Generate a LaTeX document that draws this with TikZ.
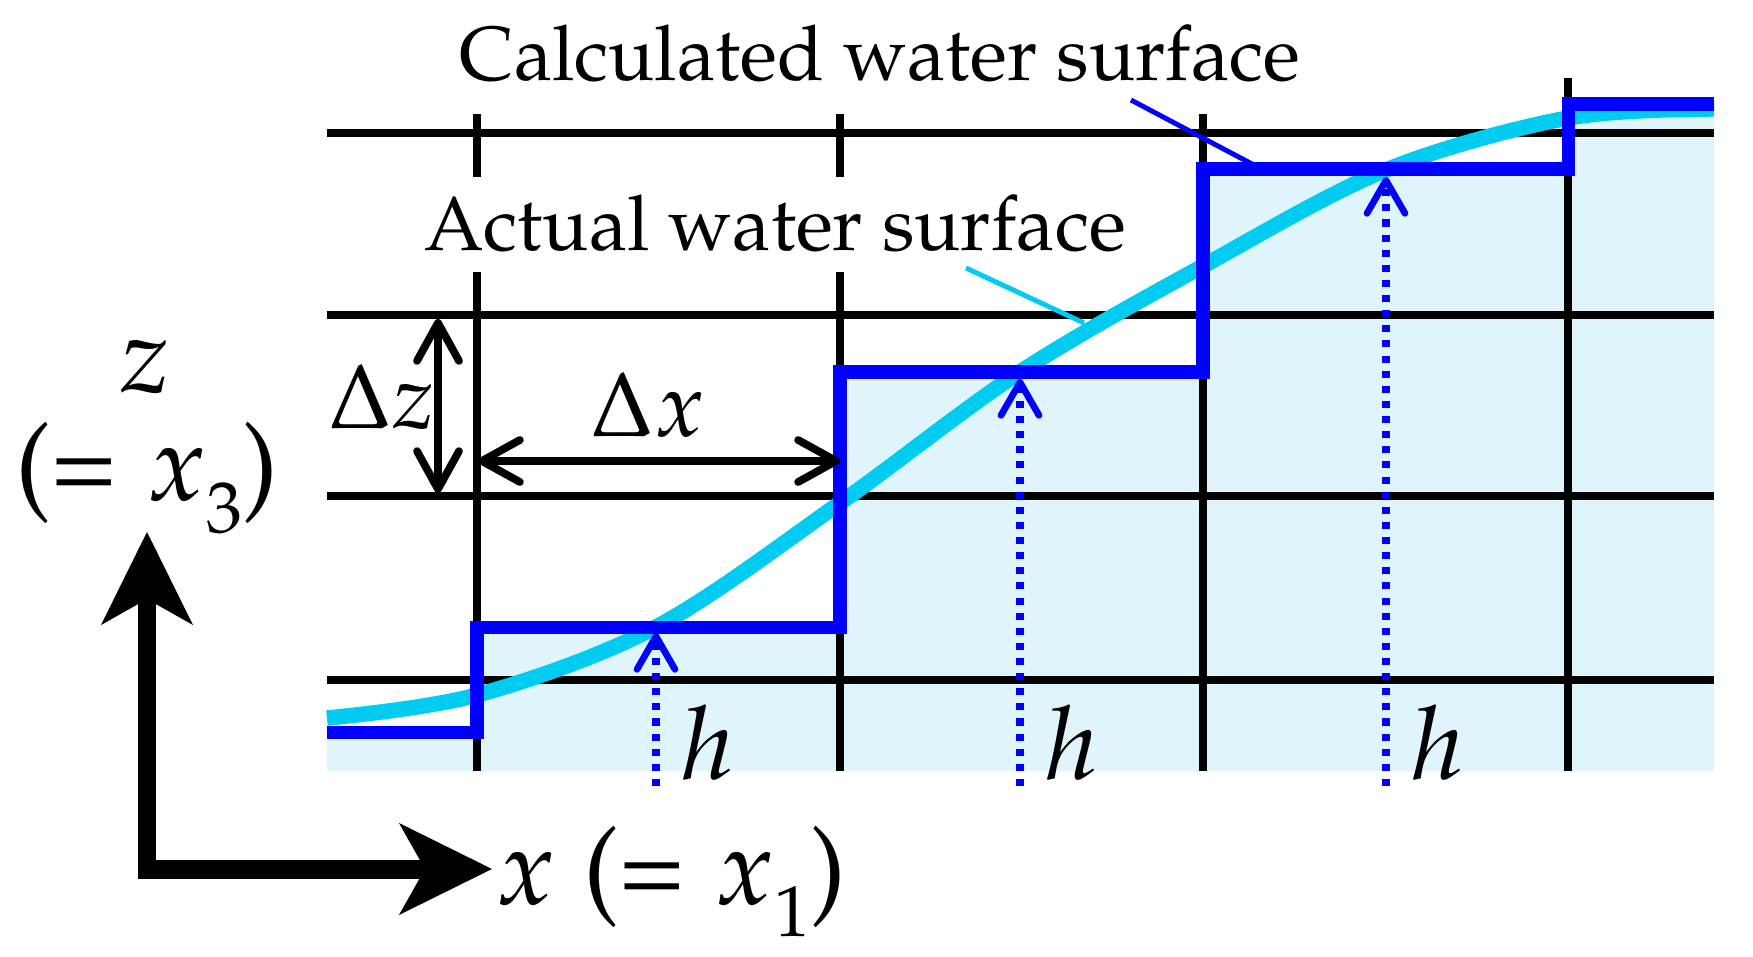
\documentclass[tikz,border=0pt]{standalone}
\usepackage[T1]{fontenc}
\usepackage{mathpazo}
\usetikzlibrary{arrows.meta}
\definecolor{wfill}{RGB}{224,244,251}
\definecolor{wcyan}{RGB}{0,204,242}
\definecolor{wblue}{RGB}{0,0,255}
\newcommand{\lowsub}[1]{\raisebox{-0.3em}{\fontsize{20.5}{24}\selectfont #1}}
\begin{document}
\begin{tikzpicture}[x=0.01cm,y=-0.01cm,
  gridline/.style={line width=2.1pt, black},
  stepline/.style={line width=3.7pt, wblue, line join=miter},
  actualline/.style={line width=4.4pt, wcyan},
  leader/.style={line width=1.4pt},
  harrow/.style={wblue, line width=2.3pt, dash pattern=on 2pt off 2.3pt,
     -{Straight Barb[length=0.33cm,width=0.38cm,line width=1.9pt,round]}},
  dimarrow/.style={line width=2.2pt,
     {Straight Barb[length=0.38cm,width=0.42cm,round]}-{Straight Barb[length=0.38cm,width=0.42cm,round]}},
  axisarrow/.style={line width=5.4pt, line join=miter,
     {Stealth[length=0.93cm,width=0.92cm,inset=0.26cm,line width=0pt]}-{Stealth[length=0.93cm,width=0.92cm,inset=0.26cm,line width=0pt]}},
  txt/.style={inner sep=0pt, font=\fontsize{21.8}{26}\selectfont},
  dlbl/.style={inner sep=0pt, font=\fontsize{26}{31}\selectfont},
  hlbl/.style={inner sep=0pt, font=\fontsize{29}{35}\selectfont},
  axlbl/.style={inner sep=0pt, font=\fontsize{30.7}{37}\selectfont}
]
\useasboundingbox (0,0) rectangle (1753,957);

% water fill below the calculated surface
\fill[wfill] (327,771) -- (327,732) -- (477,732) -- (477,627) -- (840,627) -- (840,372)
  -- (1203,372) -- (1203,169) -- (1568,169) -- (1568,104) -- (1714,104) -- (1714,771) -- cycle;

% grid
\foreach \yy in {133,315,496,680} \draw[gridline] (327,\yy) -- (1714,\yy);
\foreach \xx in {477,840,1203} \draw[gridline] (\xx,114) -- (\xx,771);
\draw[gridline] (1568,78) -- (1568,771);

% actual water surface
\draw[actualline] plot[smooth, tension=0.55] coordinates {(327,718) (477,695) (656,627) (840,503) (1020,372) (1203,266) (1386,170) (1568,118) (1714,109)};

% calculated water surface
\draw[stepline] (327,732) -- (477,732) -- (477,627) -- (840,627) -- (840,372)
  -- (1203,372) -- (1203,169) -- (1568,169) -- (1568,104) -- (1714,104);

% h arrows
\coordinate (hb1) at (656,786); \coordinate (ht1) at (656,633);
\coordinate (hb2) at (1020,786); \coordinate (ht2) at (1020,379);
\coordinate (hb3) at (1386,786); \coordinate (ht3) at (1386,177);
\draw[harrow] (hb1) -- (ht1);
\draw[harrow] (hb2) -- (ht2);
\draw[harrow] (hb3) -- (ht3);
\node[hlbl, anchor=base] (h1) at (708,779) {$h$};
\node[hlbl, anchor=base] (h2) at (1072,779) {$h$};
\node[hlbl, anchor=base] (h3) at (1438,779) {$h$};

% labels and leaders
\node[txt, anchor=base] (calc) at (880,80) {Calculated water surface};
\node[txt, anchor=base, fill=white, inner xsep=4pt, inner ysep=0pt, text height=0.73cm, text depth=0.22cm] (actual) at (775,250) {Actual water surface};
\coordinate (calcA) at (1131,100); \coordinate (calcB) at (1252,164);
\coordinate (actA) at (966,268); \coordinate (actB) at (1084,323);
\draw[leader, wblue] (calcA) -- (calcB);
\draw[leader, wcyan] (actA) -- (actB);

% dimension arrows
\coordinate (dzt) at (438,319); \coordinate (dzb) at (438,493);
\coordinate (dxl) at (478,461); \coordinate (dxr) at (840,461);
\draw[dimarrow] (dzt) -- (dzb);
\draw[dimarrow] (dxl) -- (dxr);
\node[dlbl, anchor=base] (dz) at (382,428) {$\Delta z$};
\node[dlbl, anchor=base] (dx) at (648,436) {$\Delta x$};

% axes
\coordinate (ztip) at (147,532); \coordinate (corner) at (147,869); \coordinate (xtip) at (492,869);
\draw[axisarrow] (ztip) -- (corner) -- (xtip);
\node[axlbl] (zl) at (145,367) {$z$};
\node[axlbl, anchor=base] (zl2) at (147,500) {(=\hspace{0.28em}$x$\lowsub{3})};
\node[axlbl, anchor=base west] (xl) at (496,904) {$x$ (=\hspace{0.28em}$x$\lowsub{1})};
\end{tikzpicture}
\end{document}
